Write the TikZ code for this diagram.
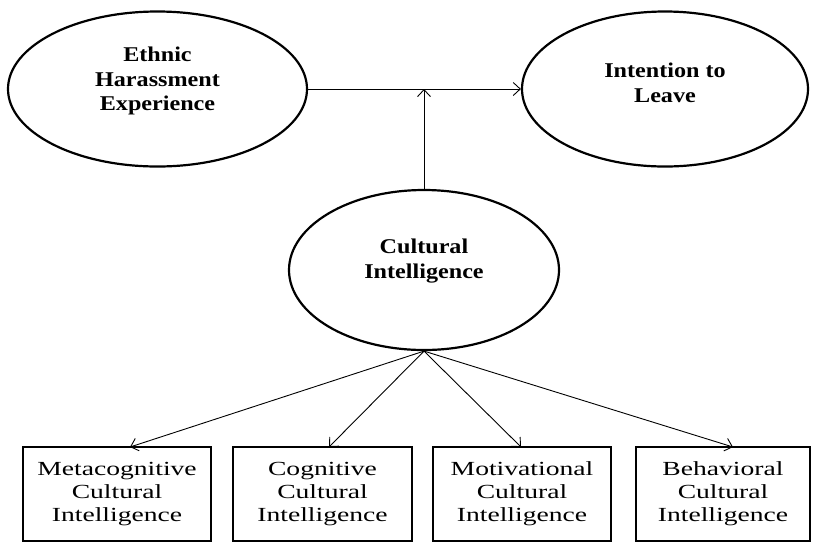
\documentclass[tikz,border=0pt]{standalone}
\usepackage{fontspec}
\setmainfont{Liberation Serif}
\newfontfamily\ellfont[FakeStretch=1.15]{Liberation Serif}
\newfontfamily\boxfont[FakeStretch=1.38]{Liberation Serif}
\usetikzlibrary{shapes.geometric,arrows.meta}
\begin{document}
\begin{tikzpicture}[x=1pt,y=-1pt,
  latent/.style={draw,ellipse,line width=2.2pt,inner sep=0pt},
  ltext/.style={inner sep=0pt,align=center,
    font=\ellfont\bfseries\fontsize{21}{24.5}\selectfont},
  indicator/.style={draw,rectangle,line width=2.2pt,inner sep=0pt,align=center,
    minimum height=94pt,font=\boxfont\fontsize{20}{23}\selectfont},
  conn/.style={line width=0.9pt,-{Straight Barb[length=7pt,width=13pt,line width=0.9pt]}}]
\useasboundingbox (0,0) rectangle (813,542);
\node[latent,minimum width=299pt,minimum height=155pt] (ehe) at (157.5,89) {};
\node[ltext] (ehet) at ([yshift=8pt]ehe.center) {Ethnic\\Harassment\\Experience};
\node[latent,minimum width=286pt,minimum height=155pt] (itl) at (665,89) {};
\node[ltext] (itlt) at ([yshift=6pt]itl.center) {Intention to\\Leave};
\node[latent,minimum width=270pt,minimum height=160pt] (ci) at (424,270) {};
\node[ltext] (cit) at ([yshift=9pt]ci.center) {Cultural\\Intelligence};
\node[indicator,minimum width=188pt] (b1) at (117,494) {Metacognitive\\Cultural\\Intelligence};
\node[indicator,minimum width=179pt] (b2) at (322.5,494) {Cognitive\\Cultural\\Intelligence};
\node[indicator,minimum width=178pt] (b3) at (522,494) {Motivational\\Cultural\\Intelligence};
\node[indicator,minimum width=174pt] (b4) at (723,494) {Behavioral\\Cultural\\Intelligence};
\coordinate (mid) at (424,89);
\coordinate (a1) at (130,447);
\coordinate (a2) at (329,447);
\coordinate (a3) at (521,447);
\coordinate (a4) at (733,447);
\draw[conn] (ehe.east) -- (itl.west);
\draw[conn] (ci.north) -- (mid);
\draw[conn] (ci.south) -- (a1);
\draw[conn] (ci.south) -- (a2);
\draw[conn] (ci.south) -- (a3);
\draw[conn] (ci.south) -- (a4);
\end{tikzpicture}
\end{document}
